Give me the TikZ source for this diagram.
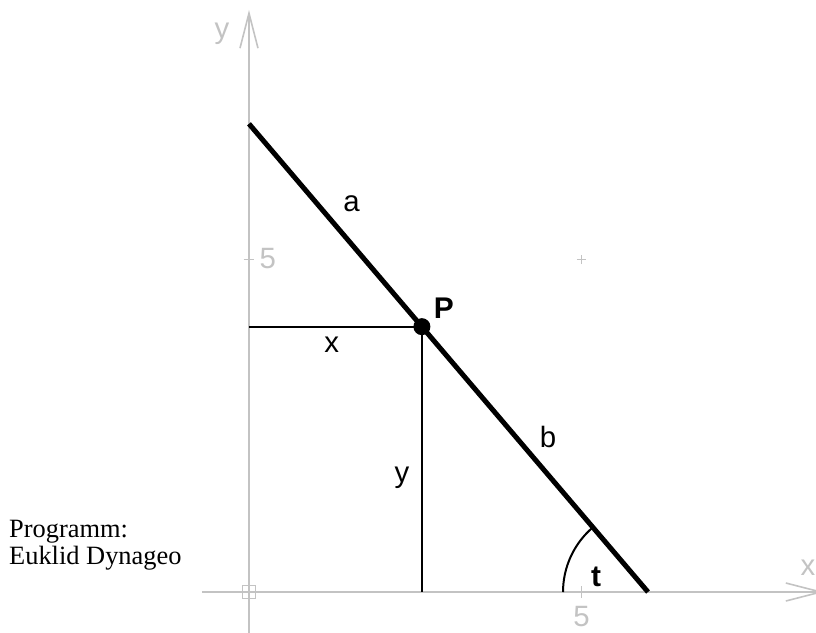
\documentclass[tikz,border=0pt]{standalone}
\usepackage{fontspec}
\setmainfont{Liberation Serif}
\setsansfont{Liberation Sans}
\usetikzlibrary{arrows.meta}
\definecolor{axisgray}{RGB}{195,195,195}
\begin{document}
\begin{tikzpicture}[x=66.5bp,y=66.5bp,
  axis/.style={draw=axisgray, line width=1.6bp},
  axarrow/.style={axis, -{Straight Barb[length=35bp,width=18bp]}},
  lbl/.style={font=\sffamily\fontsize{29.5}{34}\selectfont, inner sep=0pt},
  axlbl/.style={lbl, text=axisgray},
  boldlbl/.style={inner sep=0pt, font=\sffamily\bfseries\fontsize{30}{34}\selectfont},
  note/.style={font=\rmfamily\fontsize{26.5}{30}\selectfont, inner sep=0pt, anchor=base west},
  thinline/.style={line width=2bp},
  rod/.style={line width=5bp}]
\useasboundingbox (-3.744,-0.6015) rectangle (8.526,8.902);

% axes
\coordinate (xs) at (-0.707,0);
\coordinate (xe) at (8.647,0);
\coordinate (ys) at (0,-0.7);
\coordinate (ye) at (0,8.752);
\coordinate (O) at (0,0);
\draw[axarrow] (xs) -- (xe);
\draw[axarrow] (ys) -- (ye);
\node[axlbl] (xlab) at (8.406,0.36) {x};
\node[axlbl] (ylab) at (-0.406,8.40) {y};

% ticks
\draw[axis] (5,-0.09) -- (5,0.09);
\draw[axis] (-0.08,5) -- (0.08,5);
\node[axlbl] (x5) at (5.0,-0.375) {5};
\node[axlbl] (y5) at (0.281,5.02) {5};
\draw[draw=axisgray, line width=1bp] (4.93,5) -- (5.07,5) (5,4.93) -- (5,5.07);
\draw[axis] (-0.1,-0.1) rectangle (0.1,0.1);

% ladder
\coordinate (A) at (0,7.04);
\coordinate (B) at (6,0);
\coordinate (P) at (2.6,3.99);
\coordinate (Px) at (0,3.99);
\coordinate (Py) at (2.6,0);
\draw[thinline] (Px) -- (P);
\draw[thinline] (P) -- (Py);
\draw[rod] (A) -- (B);
\fill (P) circle[radius=0.128];
\draw[thinline] ([shift={(130.4:1.278)}]B) arc[start angle=130.4, end angle=180, radius=1.278];

% labels
\node[boldlbl] (Plab) at (2.93,4.26) {P};
\node[lbl] (alab) at (1.544,5.84) {a};
\node[lbl] (blab) at (4.496,2.33) {b};
\node[lbl] (xl) at (1.245,3.72) {x};
\node[lbl] (yl) at (2.30,1.72) {y};
\node[boldlbl] (tlab) at (5.218,0.23) {t};

\node[note] (n1) at (-3.609,0.827) {Programm:};
\node[note] (n2) at (-3.609,0.421) {Euklid Dynageo};
\end{tikzpicture}
\end{document}
